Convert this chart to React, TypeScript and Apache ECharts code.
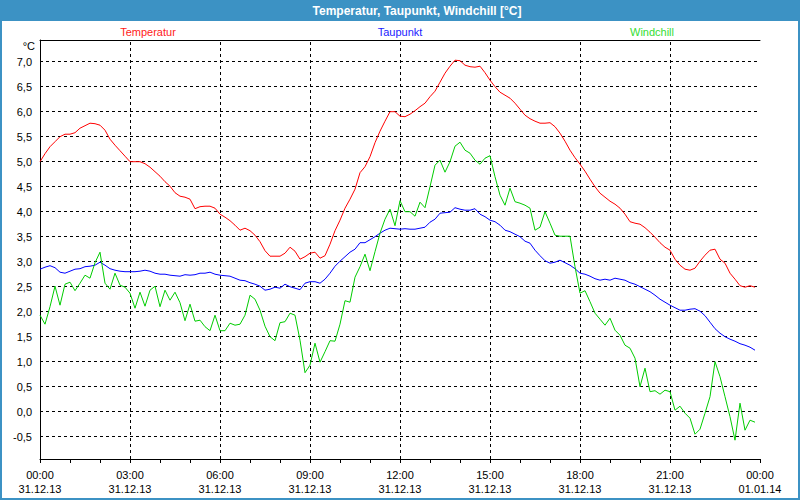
import React, { useEffect, useRef } from "react";
import * as echarts from "echarts";

// 10-minute samples, 31.12.13 00:00 .. 23:50
const STEP_MINUTES = 10;

const seriesNames = ["Temperatur", "Taupunkt", "Windchill"];

const temperatur = [
  5.0, 5.16, 5.3, 5.4, 5.5, 5.55, 5.55, 5.58, 5.67, 5.72, 5.77, 5.76,
  5.73, 5.63, 5.45, 5.33, 5.22, 5.11, 5.0, 5.0, 5.0, 4.96, 4.89, 4.8,
  4.71, 4.6, 4.51, 4.38, 4.31, 4.29, 4.25, 4.06, 4.1, 4.11, 4.11, 4.07,
  3.95, 3.89, 3.82, 3.73, 3.63, 3.67, 3.62, 3.53, 3.4, 3.22, 3.11, 3.11,
  3.11, 3.17, 3.29, 3.21, 3.05, 3.1, 3.17, 3.19, 3.07, 3.12, 3.35, 3.62,
  3.83, 4.07, 4.25, 4.45, 4.78, 4.9, 5.1, 5.38, 5.61, 5.81, 6.0, 6.0,
  5.91, 5.9, 5.95, 6.02, 6.1, 6.17, 6.3, 6.41, 6.59, 6.77, 6.91, 7.03,
  7.02, 6.93, 6.9, 6.89, 6.91, 6.78, 6.63, 6.5, 6.39, 6.33, 6.27, 6.17,
  6.05, 5.93, 5.86, 5.81, 5.77, 5.77, 5.78, 5.7, 5.57, 5.41, 5.23, 5.08,
  4.95, 4.81, 4.65, 4.5, 4.37, 4.29, 4.21, 4.15, 4.07, 3.95, 3.8, 3.77,
  3.75, 3.68, 3.59, 3.49, 3.38, 3.29, 3.23, 3.05, 2.93, 2.85, 2.83, 2.87,
  3.01, 3.13, 3.23, 3.25, 3.05, 2.97, 2.77, 2.65, 2.52, 2.49, 2.52, 2.49,
];

const taupunkt = [
  2.85, 2.89, 2.92, 2.88, 2.79, 2.77, 2.81, 2.85, 2.86, 2.9, 2.91, 2.93,
  2.99, 2.93, 2.86, 2.83, 2.81, 2.8, 2.8, 2.8, 2.81, 2.83, 2.81, 2.77,
  2.75, 2.75, 2.73, 2.72, 2.71, 2.74, 2.73, 2.74, 2.77, 2.77, 2.79, 2.75,
  2.73, 2.72, 2.71, 2.67, 2.63, 2.62, 2.58, 2.55, 2.51, 2.43, 2.45, 2.49,
  2.47, 2.55, 2.5, 2.47, 2.44, 2.57, 2.6, 2.6, 2.57, 2.65, 2.77, 2.91,
  3.01, 3.1, 3.19, 3.25, 3.38, 3.38, 3.44, 3.5, 3.57, 3.63, 3.67, 3.66,
  3.65, 3.66, 3.65, 3.65, 3.67, 3.69, 3.79, 3.85, 3.97, 3.98, 3.99, 4.08,
  4.05, 4.03, 4.03, 4.06, 3.95, 3.9, 3.83, 3.8, 3.73, 3.63, 3.6, 3.55,
  3.5, 3.41, 3.37, 3.23, 3.12, 3.02, 2.97, 2.99, 3.03, 2.98, 2.93, 2.86,
  2.77, 2.75, 2.71, 2.66, 2.63, 2.65, 2.63, 2.67, 2.65, 2.63, 2.58, 2.55,
  2.5, 2.45, 2.4, 2.33, 2.25, 2.19, 2.13, 2.08, 2.03, 2.03, 2.05, 2.06,
  2.01, 1.92, 1.79, 1.66, 1.57, 1.5, 1.45, 1.41, 1.36, 1.33, 1.29, 1.23,
];

const windchill = [
  1.93, 1.75, 2.1, 2.51, 2.13, 2.55, 2.59, 2.42, 2.57, 2.73, 2.67, 2.98,
  3.19, 2.57, 2.45, 2.77, 2.53, 2.49, 2.37, 2.07, 2.39, 2.11, 2.43, 2.51,
  2.1, 2.43, 2.23, 2.39, 2.18, 1.82, 2.15, 1.81, 1.83, 1.7, 1.62, 1.93,
  1.62, 1.62, 1.77, 1.73, 1.75, 1.93, 2.33, 2.25, 2.03, 1.71, 1.5, 1.42,
  1.78, 1.8, 1.97, 1.93, 1.43, 0.78, 0.93, 1.37, 0.99, 1.2, 1.42, 1.41,
  1.75, 2.22, 2.19, 2.69, 2.9, 3.15, 2.82, 3.2, 3.57, 3.85, 4.05, 3.72,
  4.22, 4.0, 4.0, 3.91, 4.19, 4.08, 4.5, 4.93, 5.03, 4.79, 5.0, 5.31,
  5.39, 5.23, 5.17, 5.03, 4.95, 5.07, 5.12, 4.7, 4.33, 4.13, 4.47, 4.2,
  4.17, 4.13, 4.07, 3.63, 3.69, 4.0, 3.77, 3.53, 3.51, 3.51, 3.51, 2.9,
  2.37, 2.42, 2.2, 1.97, 1.85, 1.73, 1.87, 1.63, 1.53, 1.33, 1.27, 1.07,
  0.5, 0.87, 0.4, 0.42, 0.35, 0.43, 0.4, 0.03, 0.11, -0.03, -0.13, -0.45,
  -0.35, -0.03, 0.3, 1.0, 0.7, 0.3, -0.1, -0.57, 0.17, -0.37, -0.17, -0.21,
];

const xTickHours = [0, 3, 6, 9, 12, 15, 18, 21, 24];
const xTimeLabels = ["00:00", "03:00", "06:00", "09:00", "12:00", "15:00", "18:00", "21:00", "00:00"];
const xDateLabels = ["31.12.13", "31.12.13", "31.12.13", "31.12.13", "31.12.13", "31.12.13", "31.12.13", "31.12.13", "01.01.14"];
const xGridHours = [3, 6, 9, 12, 15, 18, 21];
const yTicks = [-0.5, 0, 0.5, 1, 1.5, 2, 2.5, 3, 3.5, 4, 4.5, 5, 5.5, 6, 6.5, 7];
const Y_MIN = -0.946;
const Y_MAX = 7.434;

const lineColors = ["#ff0000", "#0000ff", "#00cc00"];
const legendColors = ["#ff1a1a", "#1a1aff", "#33dd33"];
const FRAME_BLUE = "#3c92c4";
const FONT = "'Liberation Sans', Arial, sans-serif";

function toPairs(values: number[]) {
  return values.map((v, i) => [(i * STEP_MINUTES) / 60, v]);
}

export default function App() {
  const ref = useRef<HTMLDivElement>(null);

  useEffect(() => {
    if (!ref.current) return;
    const chart = echarts.init(ref.current, undefined, { renderer: "svg" });
    const allValues = [temperatur, taupunkt, windchill];
    const legendX = [148, 400, 652];

    const option: any = {
      animation: false,
      backgroundColor: "#ffffff",
      textStyle: { fontFamily: FONT },
      grid: { left: 40, top: 40, width: 720, height: 419, containLabel: false },
      xAxis: [
        {
          type: "value",
          position: "bottom",
          min: 0,
          max: 24,
          interval: 3,
          axisLine: { show: true, onZero: false, lineStyle: { color: "#000", width: 1 } },
          axisTick: { show: true, length: 4, lineStyle: { color: "#000" } },
          minorTick: { show: true, splitNumber: 3, length: 4, lineStyle: { color: "#000" } },
          splitLine: { show: false },
          axisLabel: {
            show: true,
            margin: 9,
            fontSize: 11,
            lineHeight: 14,
            color: "#000",
            fontFamily: FONT,
            showMinLabel: true,
            showMaxLabel: true,
            formatter: (v: number) => {
              const i = xTickHours.indexOf(Math.round(v));
              return i < 0 ? "" : `${xTimeLabels[i]}\n${xDateLabels[i]}`;
            },
          },
        },
        {
          type: "value",
          position: "top",
          min: 0,
          max: 24,
          axisLine: { show: true, onZero: false, lineStyle: { color: "#000", width: 1 } },
          axisTick: { show: false },
          axisLabel: { show: false },
          splitLine: { show: false },
        },
      ],
      yAxis: {
        type: "value",
        min: Y_MIN,
        max: Y_MAX,
        axisLine: { show: true, onZero: false, lineStyle: { color: "#000", width: 1 } },
        axisTick: { show: false, customValues: yTicks },
        splitLine: { show: false },
        axisLabel: {
          show: true,
          customValues: yTicks,
          margin: 8,
          fontSize: 11,
          color: "#000",
          fontFamily: FONT,
          formatter: (v: number) => v.toFixed(1).replace(".", ","),
        },
      },
      series: [
        {
          type: "line",
          name: "grid",
          data: [],
          silent: true,
          markLine: {
            silent: true,
            symbol: "none",
            z: 1,
            label: { show: false },
            lineStyle: { color: "#000", width: 1, type: [3, 3] },
            emphasis: { disabled: true },
            data: [
              ...yTicks.map((v) => ({ yAxis: v })),
              ...xGridHours.map((h) => ({ xAxis: h })),
            ],
          },
        },
        ...seriesNames.map((name, i) => ({
          type: "line",
          name,
          data: toPairs(allValues[i]),
          showSymbol: false,
          symbol: "none",
          z: 3 + i,
          lineStyle: { color: lineColors[i], width: 1 },
          itemStyle: { color: lineColors[i] },
        })),
      ],
      graphic: [
        {
          type: "rect",
          shape: { x: 0, y: 0, width: 800, height: 21 },
          style: { fill: FRAME_BLUE },
          silent: true,
        },
        {
          type: "rect",
          shape: { x: 1, y: 1, width: 798, height: 498 },
          style: { fill: "none", stroke: FRAME_BLUE, lineWidth: 2 },
          silent: true,
        },
        {
          type: "text",
          x: 417,
          y: 11,
          style: {
            text: "Temperatur, Taupunkt, Windchill [°C]",
            fill: "#ffffff",
            font: `bold 12px ${FONT}`,
            textAlign: "center",
            textVerticalAlign: "middle",
          },
          silent: true,
        },
        ...seriesNames.map((name, i) => ({
          type: "text",
          x: legendX[i],
          y: 32,
          style: {
            text: name,
            fill: legendColors[i],
            font: `11px ${FONT}`,
            textAlign: "center",
            textVerticalAlign: "middle",
          },
          silent: true,
        })),
        {
          type: "text",
          x: 35,
          y: 46,
          style: {
            text: "°C",
            fill: "#000",
            font: `11px ${FONT}`,
            textAlign: "right",
            textVerticalAlign: "middle",
          },
          silent: true,
        },
      ],
    };

    chart.setOption(option);
    return () => chart.dispose();
  }, []);

  return (
    <div
      ref={ref}
      style={{ position: "absolute", left: 0, top: 0, width: 800, height: 500, background: "#fff" }}
    />
  );
}
